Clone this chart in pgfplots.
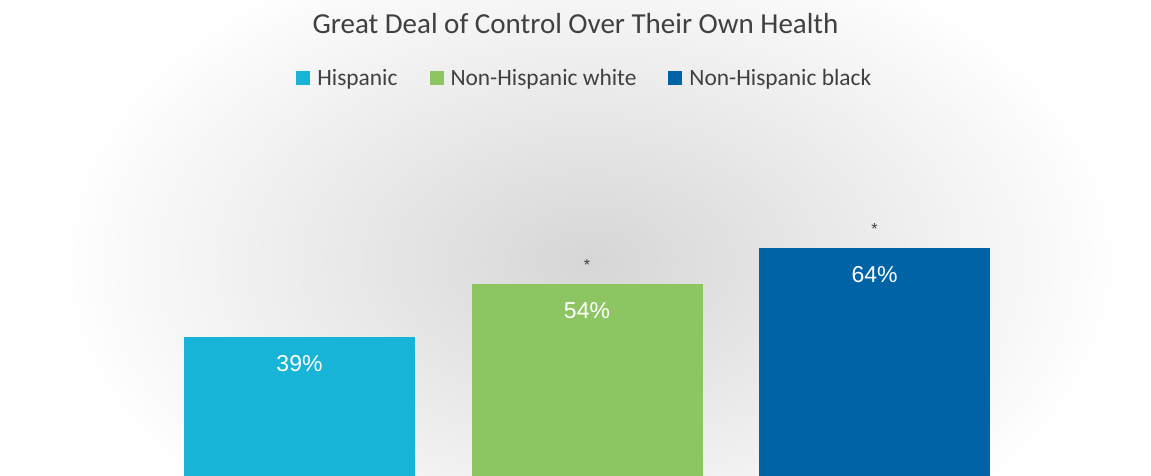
\documentclass[border=0pt]{standalone}
\usepackage{fontspec}
\setmainfont{Carlito}
\newfontfamily\arialf{Liberation Sans}
\usepackage{pgfplots}
\pgfplotsset{compat=1.18}
\definecolor{cHisp}{HTML}{17B4D8}
\definecolor{cWhite}{HTML}{8DC563}
\definecolor{cBlack}{HTML}{0063A6}
\definecolor{txt}{HTML}{404040}
\pgfplotsset{
  barlab/.style={
    nodes near coords={\pgfmathprintnumber[assume math mode=true]{\pgfplotspointmeta}\%},
    every node near coord/.append style={anchor=base, yshift=-34.5pt, text=white,
      font=\arialf\fontsize{23}{23}\selectfont}
  },
  starlab/.style={
    nodes near coords={*},
    every node near coord/.append style={anchor=center, yshift=19pt, text=txt,
      font=\arialf\fontsize{16}{16}\selectfont}
  }
}
\begin{document}
\begin{tikzpicture}[x=1pt,y=1pt]
\useasboundingbox (0,0) rectangle (1151,476);
\fill[white] (0,0) rectangle (1151,476);
\begin{scope}
\clip (0,0) rectangle (1151,476);
\shade[inner color=black!16, outer color=white] (590,215) ellipse (535 and 340);
\end{scope}
\begin{axis}[
  at={(0pt,0pt)}, anchor=south west, scale only axis,
  width=1151pt, height=476pt,
  xmin=-1.0417, xmax=2.9617, ymin=0, ymax=133.6,
  hide axis, ybar, bar width=0.8035, bar shift=0pt,
  title={Great Deal of Control Over Their Own Health},
  title style={at={(0.5,0.9160)}, anchor=base, text=txt,
    font=\fontsize{29}{29}\selectfont},
  legend style={at={(0.5085,0.836)}, anchor=center, draw=none, fill=none,
    legend columns=3, text=txt, font=\fontsize{23.4}{23.4}\selectfont,
    nodes={inner sep=3pt},
    /tikz/every even column/.append style={column sep=29pt}},
  legend image code/.code={\fill[#1,draw=none] (0pt,-7pt) rectangle (14pt,7pt); \path (18pt,0pt);},
]
\addplot[fill=cHisp, draw=none, barlab] coordinates {(0,39)};
\addplot[fill=cWhite, draw=none, barlab] coordinates {(1,54)};
\addplot[fill=cBlack, draw=none, barlab] coordinates {(2,64)};
\addplot[draw=none, fill=none, forget plot, starlab] coordinates {(1,54) (2,64)};
\legend{Hispanic, Non-Hispanic white, Non-Hispanic black}
\end{axis}
\end{tikzpicture}
\end{document}
